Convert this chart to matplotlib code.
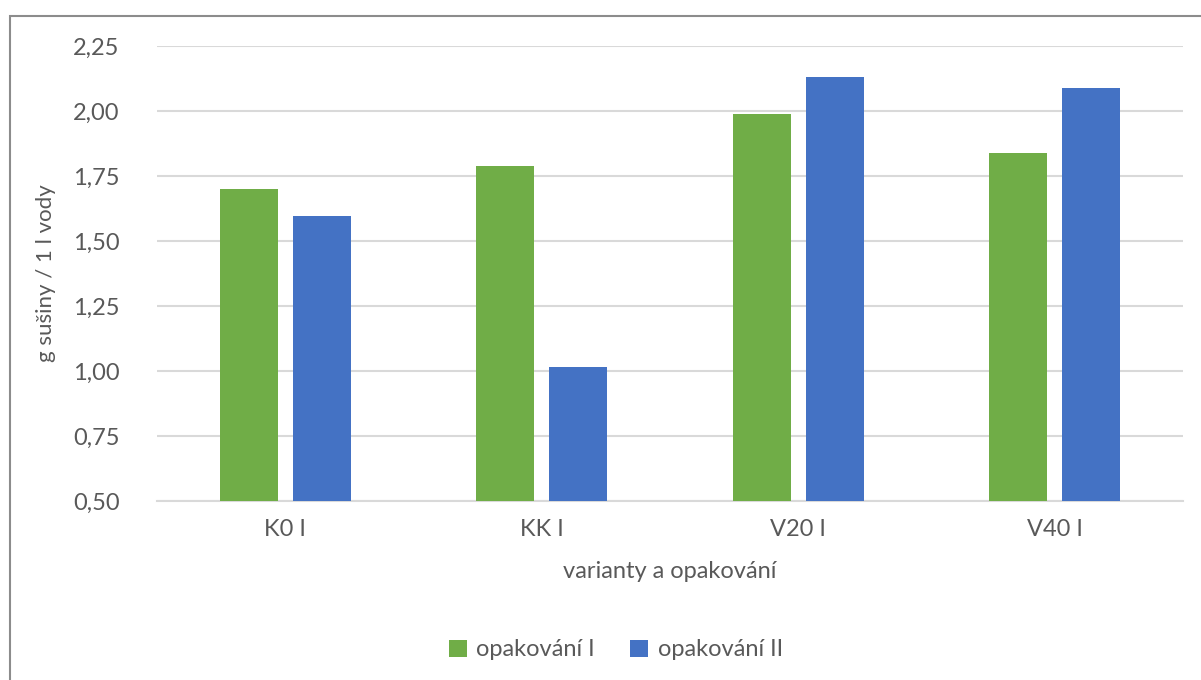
import matplotlib
matplotlib.use("Agg")
import matplotlib.pyplot as plt
from matplotlib.patches import Rectangle
from matplotlib.ticker import FuncFormatter, MultipleLocator
import numpy as np

categories = ["K0 I", "KK I", "V20 I", "V40 I"]
series_names = ["opakování I", "opakování II"]
opakovani_I = [1.70, 1.79, 1.99, 1.84]
opakovani_II = [1.595, 1.015, 2.13, 2.09]
y_label = "g sušiny / 1 l vody"
x_label = "varianty a opakování"

plt.rcParams['font.family'] = ['Lato', 'DejaVu Sans']
text_color = "#595959"
green = "#70AD47"
blue = "#4472C4"

W, H = 1201, 680
fig = plt.figure(figsize=(W / 100, H / 100), dpi=100)
fig.patch.set_facecolor("white")

# outer chart border (top and left visible)
fig.patches.append(Rectangle((10 / W, -0.05), 1.2, 1 - 16 / H + 0.05,
                             transform=fig.transFigure, fill=False,
                             edgecolor="#8c8c8c", linewidth=1.5))

left, right = 157 / W, 1183 / W
top, bottom = 1 - 46 / H, 1 - 501 / H
ax = fig.add_axes([left, bottom, right - left, top - bottom])

x = np.arange(len(categories))
bw = 0.226
off = 0.143
ax.bar(x - off, opakovani_I, bw, bottom=0, color=green, label=series_names[0], zorder=3)
ax.bar(x + off, opakovani_II, bw, bottom=0, color=blue, label=series_names[1], zorder=3)

ax.set_xlim(-0.5, len(categories) - 0.5)
ax.set_ylim(0.5, 2.25)
ax.yaxis.set_major_locator(MultipleLocator(0.25))
ax.yaxis.set_major_formatter(FuncFormatter(lambda v, p: f"{v:.2f}".replace(".", ",")))
ax.grid(axis="y", color="#d9d9d9", linewidth=1.5, zorder=0)
ax.set_axisbelow(True)
for s in ["top", "right", "left"]:
    ax.spines[s].set_visible(False)
ax.spines["bottom"].set_color("#d9d9d9")
ax.spines["bottom"].set_linewidth(1.5)
ax.tick_params(axis="both", length=0, labelsize=17, colors=text_color)
ax.tick_params(axis="y", pad=27)
ax.tick_params(axis="x", pad=13)
ax.set_xticks(x)
ax.set_xticklabels(categories)

ax.set_ylabel(y_label, fontsize=16, color=text_color, labelpad=12)
ax.set_xlabel(x_label, fontsize=17, color=text_color, labelpad=15)

leg = fig.legend(loc="center", bbox_to_anchor=(616 / W, 1 - 650 / H), ncol=2,
                 frameon=False, fontsize=17, handlelength=0.75, handleheight=0.75,
                 columnspacing=1.5, handletextpad=0.4, labelcolor=text_color)

fig.savefig("out.png", dpi=100, facecolor="white")
